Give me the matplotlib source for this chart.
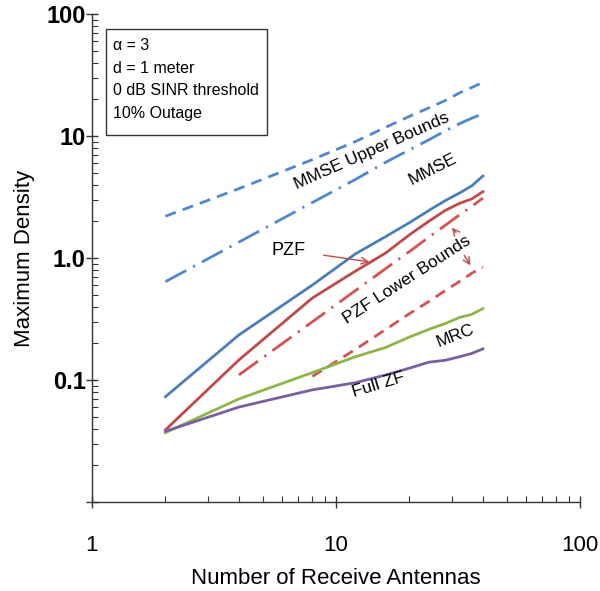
import matplotlib

matplotlib.use("Agg")
import matplotlib.pyplot as plt
from matplotlib.patches import Rectangle
from matplotlib.ticker import FixedLocator, FixedFormatter, LogLocator, NullFormatter

plt.rcParams["font.family"] = ["Liberation Sans", "DejaVu Sans"]

# ---------------- Data ----------------

antennas = [2, 4, 8, 12, 16, 20, 24, 28, 32, 36, 40]
mmse = [0.073, 0.234, 0.60, 1.08, 1.50, 1.95, 2.45, 2.95, 3.4, 3.9, 4.7]
pzf = [0.039, 0.146, 0.47, 0.78, 1.10, 1.55, 2.00, 2.45, 2.80, 3.05, 3.5]
mrc = [0.037, 0.070, 0.115, 0.155, 0.185, 0.225, 0.26, 0.29, 0.325, 0.345, 0.385]
full_zf = [0.038, 0.060, 0.083, 0.095, 0.11, 0.125, 0.14, 0.145, 0.155, 0.165, 0.18]

mmse_ub_dash = [2.2, 3.7, 6.4, 9.0, 11.8, 14.5, 17.0, 19.5, 22.5, 25.0, 27.5]
mmse_ub_dashdot = [0.64, 1.35, 2.85, 4.4, 6.1, 7.7, 9.3, 11.0, 12.6, 14.0, 15.2]

pzf_lb_x_dashdot = [4, 8, 12, 16, 20, 24, 28, 32, 36, 40]
pzf_lb_dashdot = [0.11, 0.30, 0.54, 0.82, 1.13, 1.48, 1.85, 2.25, 2.65, 3.1]
pzf_lb_x_dash = [8, 12, 16, 20, 24, 28, 32, 36, 40]
pzf_lb_dash = [0.107, 0.178, 0.26, 0.35, 0.44, 0.54, 0.64, 0.75, 0.84]

y_ticks = [0.01, 0.1, 1.0, 10, 100]
y_tick_labels = ["", "0.1", "1.0", "10", "100"]
x_ticks = [1, 10, 100]
x_tick_labels = ["1", "10", "100"]

info_lines = ["α = 3", "d = 1 meter", "0 dB SINR threshold", "10% Outage"]

BLUE = "#4A7EBB"
BLUE_LIGHT = "#4F88CC"
RED = "#BE4B48"
RED_LIGHT = "#D45350"
GREEN = "#8DB54A"
PURPLE = "#7A5FA0"

# ---------------- Figure ----------------

fig = plt.figure(figsize=(6.0, 5.91), dpi=100)
ax = fig.add_axes([0.1533, 0.1506, 0.8134, 0.8257])

lw = 2.0
ax.plot(antennas, mmse_ub_dash, color=BLUE_LIGHT, lw=lw, dashes=(4.0, 2.6))
ax.plot(antennas, mmse_ub_dashdot, color=BLUE_LIGHT, lw=lw, dashes=(8.5, 2.8, 0.8, 2.8))
ax.plot(pzf_lb_x_dashdot, pzf_lb_dashdot, color=RED_LIGHT, lw=lw, dashes=(8.5, 2.8, 0.8, 2.8))
ax.plot(pzf_lb_x_dash, pzf_lb_dash, color=RED_LIGHT, lw=lw, dashes=(4.0, 2.6))
ax.plot(antennas, mmse, color=BLUE, lw=lw)
ax.plot(antennas, pzf, color=RED, lw=lw)
ax.plot(antennas, mrc, color=GREEN, lw=lw)
ax.plot(antennas, full_zf, color=PURPLE, lw=lw)

ax.set_xscale("log")
ax.set_yscale("log")
ax.set_xlim(1, 100)
ax.set_ylim(0.01, 100)

for side in ("top", "right"):
    ax.spines[side].set_visible(False)
for side in ("left", "bottom"):
    ax.spines[side].set_color("#333333")
    ax.spines[side].set_linewidth(1.0)

ax.xaxis.set_major_locator(FixedLocator(x_ticks))
ax.xaxis.set_major_formatter(FixedFormatter(x_tick_labels))
ax.yaxis.set_major_locator(FixedLocator(y_ticks))
ax.yaxis.set_major_formatter(FixedFormatter(y_tick_labels))
ax.xaxis.set_minor_locator(LogLocator(base=10, subs=range(2, 10)))
ax.yaxis.set_minor_locator(LogLocator(base=10, subs=range(2, 10)))
ax.xaxis.set_minor_formatter(NullFormatter())
ax.yaxis.set_minor_formatter(NullFormatter())

ax.tick_params(which="major", direction="inout", length=9, width=1.0, color="#333333")
ax.tick_params(which="minor", direction="in", length=4.5, width=0.8, color="#333333")
ax.tick_params(axis="x", which="major", labelsize=16, pad=19)
ax.tick_params(axis="y", which="major", labelsize=17, pad=0)
for lbl in ax.get_yticklabels():
    lbl.set_fontweight("bold")

ax.set_xlabel("Number of Receive Antennas", fontsize=16, labelpad=9)
ax.set_ylabel("Maximum Density", fontsize=16, labelpad=8)

# info box
fig.patches.append(
    Rectangle((106 / 600, 1 - 135 / 591), 161 / 600, 106 / 591,
              transform=fig.transFigure, facecolor="white",
              edgecolor="#333333", lw=1.0)
)
fig.text(113 / 600, 1 - 38.5 / 591, "\n".join(info_lines), fontsize=11.5,
         va="top", ha="left", linespacing=1.62)

# curve annotations
ax.text(14.0, 7.6, "MMSE Upper Bounds", fontsize=12.5, rotation=24,
        ha="center", va="center")
ax.text(24.8, 5.3, "MMSE", fontsize=12.5, rotation=27, ha="center", va="center")
ax.text(30.9, 0.231, "MRC", fontsize=12.5, rotation=21, ha="center", va="center")
ax.text(14.9, 0.091, "Full ZF", fontsize=12.5, rotation=17, ha="center", va="center")
ax.text(19.5, 0.66, "PZF Lower Bounds", fontsize=12.5, rotation=33,
        ha="center", va="center")

arrow = dict(arrowstyle="->", color=RED, lw=1.0, mutation_scale=12)
ax.annotate("PZF", xy=(13.7, 0.93), xytext=(6.4, 1.16), fontsize=13,
            ha="center", va="center", arrowprops=dict(arrow, shrinkA=11, shrinkB=0))
ax.annotate("", xy=(29.4, 1.85), xytext=(31.5, 1.55), arrowprops=arrow)
ax.annotate("", xy=(36.0, 0.83), xytext=(33.1, 1.10), arrowprops=arrow)

fig.savefig("out.png", dpi=100)
